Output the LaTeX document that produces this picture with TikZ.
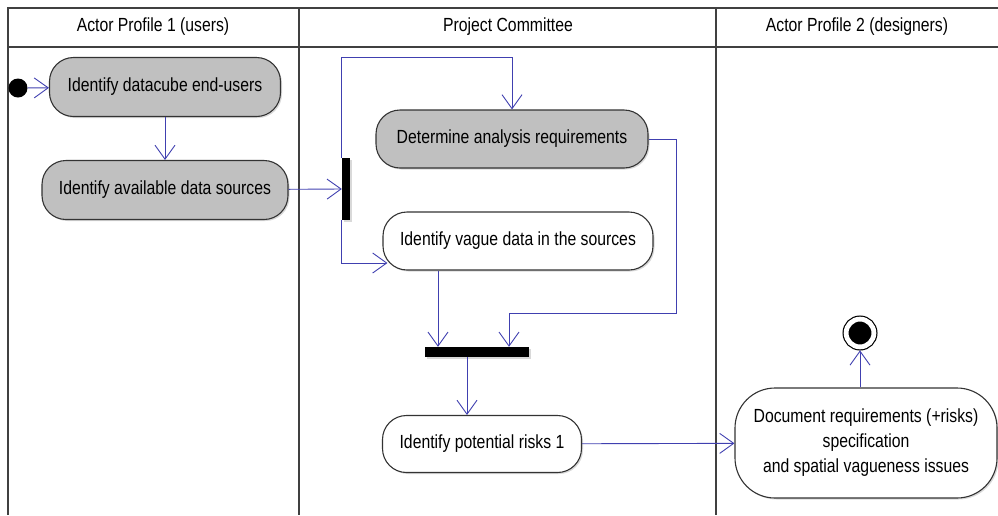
\documentclass[tikz,border=0pt]{standalone}
\usepackage{fontspec}
\setmainfont{Liberation Sans}[FakeStretch=0.83]
\usetikzlibrary{arrows.meta,shadows}
\definecolor{flowblue}{RGB}{64,64,176}
\definecolor{actgray}{RGB}{192,192,192}

\begin{document}
\begin{tikzpicture}[x=1pt,y=-1pt,font=\fontsize{19}{25}\selectfont,
  flow/.style={draw=flowblue,line width=0.9pt,-{Straight Barb[length=14pt,width=20pt,line width=0.9pt]}},
  act/.style={draw=black!80,line width=1.1pt,rounded corners=24pt,inner sep=0pt,align=center,fill=white,
    drop shadow={shadow xshift=1.5pt,shadow yshift=-1.5pt,opacity=.3}},
  done/.style={act,fill=actgray},
  bar/.style={fill=black,inner sep=0pt,drop shadow={shadow xshift=1.5pt,shadow yshift=-1.5pt,opacity=.3}},
  lane/.style={draw=black!75,line width=1.3pt}]
\useasboundingbox (0,0) rectangle (998,515);

% swimlanes
\draw[lane] (998,8) -- (8,8) -- (8,515);
\draw[lane] (8,47) -- (998,47);
\draw[lane] (299,8) -- (299,515);
\draw[lane] (716,8) -- (716,515);
\node (users) at (153,27) {Actor Profile 1 (users)};
\node (comm) at (508,27) {Project Committee};
\node (design) at (857,27) {Actor Profile 2 (designers)};

% activities
\node[circle,fill=black,minimum size=19pt,inner sep=0pt] (start) at (18,88) {};
\node[done,minimum width=231pt,minimum height=59pt] (cube) at (165,87) {Identify datacube end-users};
\node[done,minimum width=246pt,minimum height=59pt] (avail) at (165,190) {Identify available data sources};
\node[bar,minimum width=8pt,minimum height=62pt] (fork) at (346,189) {};
\node[done,minimum width=272pt,minimum height=58pt] (determine) at (512,139) {Determine analysis requirements};
\node[act,minimum width=270pt,minimum height=58pt] (vague) at (518,241) {Identify vague data in the sources};
\node[bar,minimum width=104pt,minimum height=10pt] (join) at (477,352) {};
\node[act,minimum width=199pt,minimum height=57pt] (risks) at (482,444) {Identify potential risks 1};
\node[act,rounded corners=40pt,minimum width=262pt,minimum height=110pt] (doc) at (866,443)
  {Document requirements (+risks)\\ specification\\ and spatial vagueness issues};
\node[circle,draw=black,fill=black,double=white,double distance=4.8pt,line width=1.2pt,
  minimum size=27.8pt,inner sep=0pt,outer sep=3.5pt] (stop) at (860,333) {};

% transitions
\path (start) edge[flow] (cube)
      (cube) edge[flow] (avail)
      (avail) edge[flow] (fork.west)
      (risks) edge[flow] (doc);
\draw[flow] (fork.north west) -- ++(0,-100) -| (determine.north);
\draw[flow] (fork.south west) |- ([yshift=-22pt,xshift=5pt]vague.west);
\draw[flow] (determine.east) -| ++(28,174) -| ([xshift=32pt]join.north);
\draw[flow] ([xshift=-80pt]vague.south) -- ([xshift=-80pt]vague.south |- join.north);
\draw[flow] ([xshift=-10pt]join.south) -- ([xshift=-10pt]join.south |- risks.north);
\draw[flow] (doc.north -| stop.south) -- (stop.south);

\end{tikzpicture}
\end{document}
